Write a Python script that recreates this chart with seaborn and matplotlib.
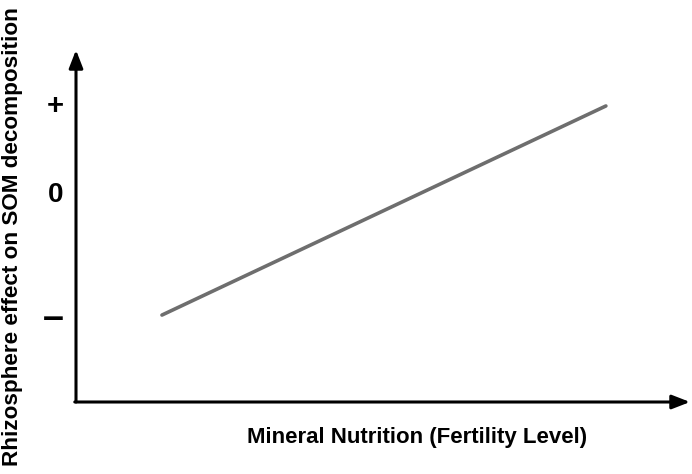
import matplotlib
matplotlib.use("Agg")
import matplotlib.pyplot as plt
import seaborn as sns
import pandas as pd

# conceptual line: rhizosphere effect vs. fertility level
fertility = [1.40, 8.63]
effect = [2.47, 8.41]
tick_pos = [2.47, 5.97, 8.49]
tick_labels = ["\u2013", "0", "+"]

sns.set_theme(style="white")
plt.rcParams["font.family"] = ["Liberation Sans", "DejaVu Sans"]
plt.rcParams["text.color"] = "black"
plt.rcParams["ytick.color"] = "black"

df = pd.DataFrame({"fertility": fertility, "effect": effect})

fig = plt.figure(figsize=(6.92, 4.74), dpi=100)
ax = fig.add_axes([76 / 692, 1 - 402 / 474, 614 / 692, 352 / 474])
sns.lineplot(data=df, x="fertility", y="effect", ax=ax, color="#6e6e6e", linewidth=2.6)
ax.set_xlim(0, 10)
ax.set_ylim(0, 10)
for s in ax.spines.values():
    s.set_visible(False)

# arrow axes
arrow = dict(arrowstyle="-|>,head_length=0.9,head_width=0.35", color="black", lw=2.2,
             shrinkA=0, shrinkB=0)
ax.annotate("", xy=(0, 1.0), xytext=(0, 0), xycoords="axes fraction", arrowprops=arrow)
ax.annotate("", xy=(1.0, 0), xytext=(-0.002, 0), xycoords="axes fraction", arrowprops=arrow)

ax.set_xticks([])
ax.set_yticks(tick_pos)
ax.set_yticklabels(tick_labels, fontweight="bold")
sizes = [27, 20, 21]
for lab, fs in zip(ax.get_yticklabels(), sizes):
    lab.set_fontsize(fs)
    lab.set_color("black")
ax.tick_params(axis="y", length=0, pad=9)
ax.set_xlabel("")
ax.set_ylabel("")

fig.text(417 / 692, 1 - 438 / 474, "Mineral Nutrition (Fertility Level)",
         ha="center", va="center", fontsize=16, fontweight="bold", color="black")
fig.text(13 / 692, 1 - 237 / 474, "Rhizosphere effect on SOM decomposition",
         ha="center", va="center", rotation=90, fontsize=16.2, fontweight="bold", color="black")

fig.savefig("out.png", dpi=100)
